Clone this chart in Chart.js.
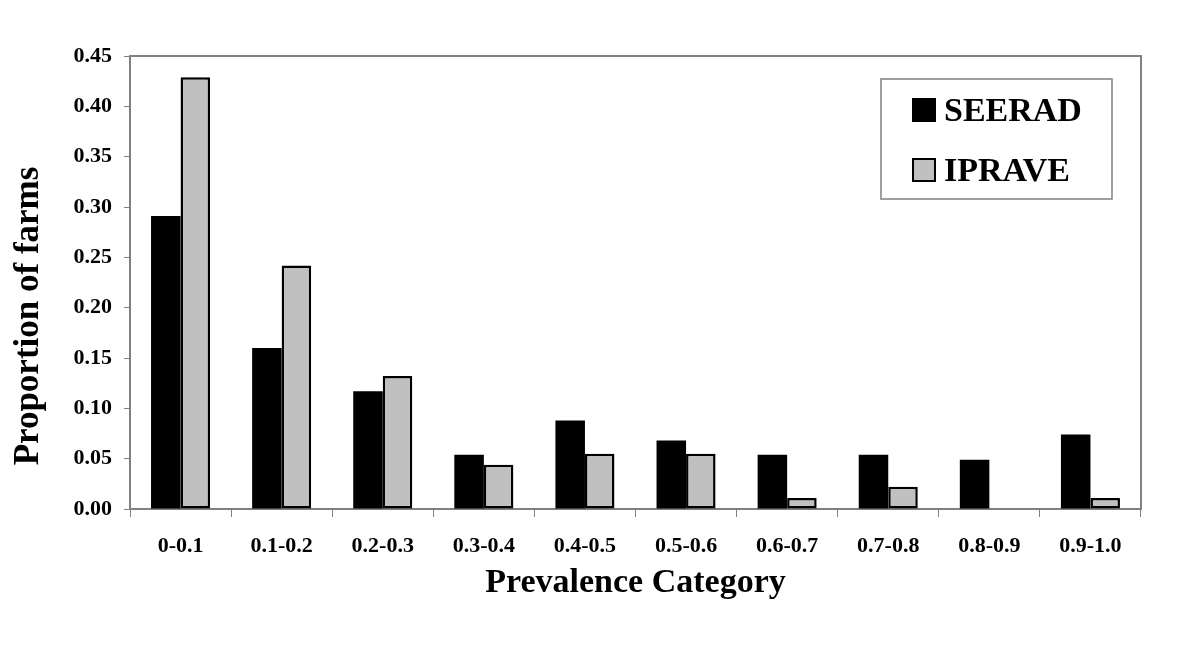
<!DOCTYPE html>
<html>
<head>
<meta charset="utf-8">
<script src="https://cdn.jsdelivr.net/npm/chart.js@4"></script>
<style>
  body { margin: 0; background: #fff; }
  canvas { display: block; }
</style>
</head>
<body>
<canvas id="bar-chart" width="1200" height="656"></canvas>
<script>
// data
const categories = ["0-0.1", "0.1-0.2", "0.2-0.3", "0.3-0.4", "0.4-0.5", "0.5-0.6", "0.6-0.7", "0.7-0.8", "0.8-0.9", "0.9-1.0"];
const seerad = [0.291, 0.160, 0.117, 0.054, 0.088, 0.068, 0.054, 0.054, 0.049, 0.074];
const iprave = [0.429, 0.242, 0.132, 0.044, 0.055, 0.055, 0.011, 0.022, 0, 0.011];
const yMin = 0;
const yMax = 0.45;
const yStep = 0.05;

const serif = "'Liberation Serif', 'Times New Roman', serif";
const axisGray = "#808080";

// frame on top + right, titles, legend box
const extras = {
    id: "extras",
    afterDraw(chart) {
        const ctx = chart.ctx;
        const a = chart.chartArea;
        ctx.save();
        ctx.strokeStyle = axisGray;
        ctx.lineWidth = 2;
        ctx.beginPath();
        ctx.moveTo(a.left, a.top);
        ctx.lineTo(a.right, a.top);
        ctx.lineTo(a.right, a.bottom);
        ctx.stroke();

        ctx.fillStyle = "#000";
        ctx.textAlign = "center";
        ctx.textBaseline = "middle";
        ctx.font = "bold 34px " + serif;
        ctx.fillText("Prevalence Category", (a.left + a.right) / 2, 583);

        ctx.save();
        ctx.translate(29, 316);
        ctx.rotate(-Math.PI / 2);
        ctx.font = "bold 35px " + serif;
        ctx.fillText("Proportion of farms", 0, 0);
        ctx.restore();

        // legend
        ctx.strokeStyle = axisGray;
        ctx.lineWidth = 1.5;
        ctx.strokeRect(881, 79, 231, 120);
        ctx.textAlign = "left";
        ctx.font = "bold 34px " + serif;
        chart.data.datasets.forEach((ds, i) => {
            const y = 98 + i * 60;
            ctx.fillStyle = ds.backgroundColor;
            ctx.fillRect(912, y, 24, 24);
            ctx.strokeStyle = "#000";
            ctx.lineWidth = 2;
            ctx.strokeRect(913, y + 1, 22, 22);
            ctx.fillStyle = "#000";
            ctx.fillText(ds.label, 944, y + 14);
        });
        ctx.restore();
    },
};

new Chart(document.getElementById("bar-chart"), {
    type: "bar",
    data: {
        labels: categories,
        datasets: [
            {
                label: "SEERAD",
                data: seerad,
                backgroundColor: "#000000",
                borderWidth: 0,
            },
            {
                label: "IPRAVE",
                data: iprave,
                backgroundColor: "#c0c0c0",
                borderColor: "#000000",
                borderWidth: 2.5,
                borderSkipped: false,
            },
        ],
    },
    options: {
        responsive: false,
        animation: false,
        categoryPercentage: 0.584,
        barPercentage: 1.0,
        layout: { padding: { top: 56, right: 59, bottom: 0, left: 0 } },
        plugins: {
            legend: { display: false },
            tooltip: { enabled: false },
        },
        scales: {
            x: {
                afterFit: (scale) => { scale.height = 147; },
                grid: {
                    offset: true,
                    drawOnChartArea: false,
                    tickLength: 8,
                    tickColor: axisGray,
                    tickWidth: 1,
                },
                border: { color: axisGray, width: 2 },
                ticks: {
                    color: "#000",
                    padding: 16,
                    maxRotation: 0,
                    font: { family: serif, size: 22, weight: "bold" },
                },
            },
            y: {
                min: yMin,
                max: yMax,
                afterFit: (scale) => { scale.width = 130; },
                grid: {
                    drawOnChartArea: false,
                    tickLength: 6,
                    tickColor: axisGray,
                },
                border: { color: axisGray, width: 2 },
                ticks: {
                    stepSize: yStep,
                    color: "#000",
                    padding: 12,
                    font: { family: serif, size: 22, weight: "bold" },
                    callback: (v) => v.toFixed(2),
                },
            },
        },
    },
    plugins: [extras],
});
</script>
</body>
</html>
